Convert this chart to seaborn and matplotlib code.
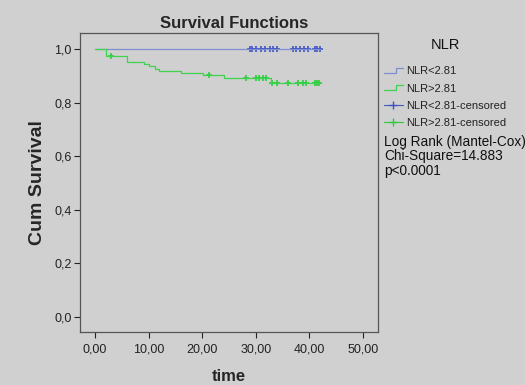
import numpy as np
import pandas as pd
import matplotlib
matplotlib.use("Agg")
import matplotlib.pyplot as plt
import seaborn as sns
from matplotlib.lines import Line2D
from matplotlib.legend_handler import HandlerBase

# step curve for each group (time, cumulative survival)
low_times = [0.0, 42.0]
low_surv = [1.0, 1.0]
low_cens = [28.9, 29.3, 30.1, 30.9, 31.8, 32.6, 33.2, 34.0, 36.9, 37.6,
            38.2, 39.0, 39.7, 41.0, 41.4, 42.0]

high_times = [0.0, 2.0, 5.9, 9.2, 10.1, 11.2, 11.9, 16.0, 20.2, 24.0, 32.8, 42.0]
high_surv = [1.0, 0.976, 0.954, 0.945, 0.938, 0.928, 0.918, 0.911, 0.904,
             0.891, 0.873, 0.873]
high_cens = [3.0, 21.3, 28.1, 30.0, 30.7, 31.3, 32.0, 33.1, 34.0, 36.0,
             37.9, 38.8, 39.4, 41.0, 41.4, 41.9]

groups = ["NLR<2.81", "NLR>2.81"]
x_ticks = [0, 10, 20, 30, 40, 50]
x_labels = ["0,00", "10,00", "20,00", "30,00", "40,00", "50,00"]
y_ticks = [0, 0.2, 0.4, 0.6, 0.8, 1.0]
y_labels = ["0,0", "0,2", "0,4", "0,6", "0,8", "1,0"]
stats_lines = ["Log Rank (Mantel-Cox)", "Chi-Square=14.883", "p<0.0001"]

colors = {"NLR<2.81": "#3f55c4", "NLR>2.81": "#2ccc3c"}
line_colors = {"NLR<2.81": "#7f8fd0", "NLR>2.81": "#3fd24f"}
bg = "#d0d0d0"


def surv_at(t, times, surv):
    idx = np.searchsorted(times, t, side="right") - 1
    return surv[idx]


curves = pd.concat([
    pd.DataFrame({"time": low_times, "surv": low_surv, "group": groups[0]}),
    pd.DataFrame({"time": high_times, "surv": high_surv, "group": groups[1]}),
])
cens = pd.concat([
    pd.DataFrame({"time": low_cens,
                  "surv": [surv_at(t, low_times, low_surv) for t in low_cens],
                  "group": groups[0]}),
    pd.DataFrame({"time": high_cens,
                  "surv": [surv_at(t, high_times, high_surv) for t in high_cens],
                  "group": groups[1]}),
])

sns.set_style("ticks")
plt.rcParams["font.family"] = ["Liberation Sans", "DejaVu Sans"]

fig = plt.figure(figsize=(5.25, 3.85), dpi=100, facecolor=bg)
ax = fig.add_axes([0.1524, 0.1377, 0.568, 0.776], facecolor=bg)

for g in groups:
    d = curves[curves.group == g]
    sns.lineplot(data=d, x="time", y="surv", ax=ax, drawstyle="steps-post",
                 color=line_colors[g], lw=0.9, legend=False)
    c = cens[cens.group == g]
    sns.scatterplot(data=c, x="time", y="surv", ax=ax, marker="+", s=24,
                    color=colors[g], linewidth=1.2, legend=False)

ax.set_xlim(-2.8, 52.86)
ax.set_ylim(-0.057, 1.06)
ax.set_xticks(x_ticks)
ax.set_xticklabels(x_labels)
ax.set_yticks(y_ticks)
ax.set_yticklabels(y_labels)
ax.tick_params(labelsize=9, colors="#222222", length=4, width=0.8)
ax.tick_params(axis="x", pad=4)
ax.tick_params(axis="y", pad=2)
for s in ax.spines.values():
    s.set_color("#555555")
    s.set_linewidth(0.9)

ax.set_xlabel("time", fontsize=12, fontweight="bold", labelpad=10)
ax.set_ylabel("Cum Survival", fontsize=14, fontweight="bold", labelpad=6)
ax.set_title("Survival Functions", fontsize=12, fontweight="bold", pad=4, x=0.517)


class StepHandler(HandlerBase):
    def create_artists(self, legend, orig_handle, xd, yd, width, height,
                       fontsize, trans):
        c = orig_handle.get_color()
        xs = [xd, xd + width * 0.65, xd + width * 0.65, xd + width]
        ys = [yd + height * 0.15, yd + height * 0.15, yd + height * 0.85, yd + height * 0.85]
        return [Line2D(xs, ys, color=c, lw=0.9, transform=trans)]


h1 = Line2D([], [], color=line_colors[groups[0]])
h2 = Line2D([], [], color=line_colors[groups[1]])
h3 = Line2D([], [], color=colors[groups[0]], marker="+", lw=0.8, markersize=6)
h4 = Line2D([], [], color=colors[groups[1]], marker="+", lw=0.8, markersize=6)

leg = fig.legend([h1, h2, h3, h4],
                 groups + [g + "-censored" for g in groups],
                 handler_map={h1: StepHandler(), h2: StepHandler()},
                 loc="upper left", bbox_to_anchor=(0.731, 0.828),
                 frameon=False, fontsize=8, handlelength=1.7,
                 handletextpad=0.35, labelspacing=0.66, borderaxespad=0,
                 borderpad=0)
for t in leg.get_texts():
    t.set_color("#222222")

fig.text(0.848, 0.882, "NLR", fontsize=10.5, ha="center", va="center", color="#111111")
for i, line in enumerate(stats_lines):
    fig.text(0.731, 1 - (141.5 + 14.8 * i) / 385, line, fontsize=9.8,
             ha="left", va="center", color="#111111")

fig.savefig("out.png", dpi=100, facecolor=bg)
